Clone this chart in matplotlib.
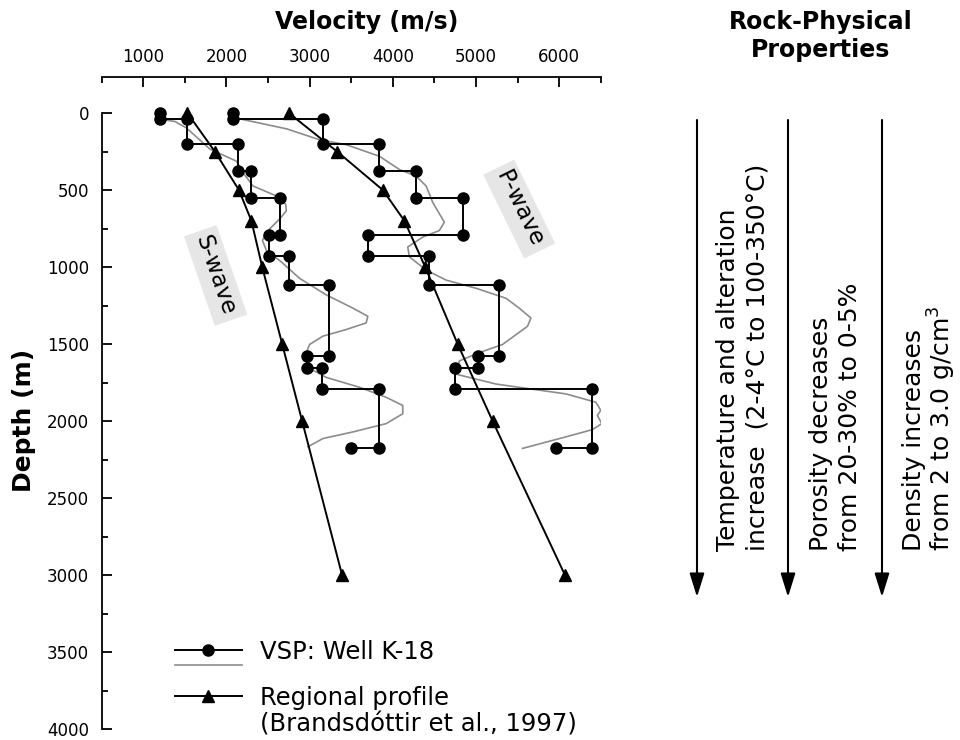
import matplotlib
matplotlib.use('Agg')
import matplotlib.pyplot as plt
from matplotlib.legend_handler import HandlerBase
from matplotlib.lines import Line2D

# ---------------- data ----------------
# VSP Well K-18, interval (step) velocities, shared depth nodes
vsp_depth = [0, 40, 40, 200, 200, 375, 375, 555, 555, 790, 790, 930, 930,
             1115, 1115, 1580, 1580, 1655, 1655, 1795, 1795, 2175, 2175]
s_vsp_vel = [1200, 1200, 1520, 1520, 2140, 2140, 2300, 2300, 2640, 2640, 2510, 2510,
             2750, 2750, 3230, 3230, 2970, 2970, 3150, 3150, 3840, 3840, 3500]
p_vsp_vel = [2080, 2080, 3160, 3160, 3840, 3840, 4280, 4280, 4850, 4850, 3700, 3700,
             4430, 4430, 5280, 5280, 5020, 5020, 4750, 4750, 6400, 6400, 5960]

# VSP continuous (grey) curves
s_cont_depth = [40, 55, 98, 234, 313, 388, 474, 534, 592, 635, 688, 774, 828, 892, 967,
                1074, 1181, 1267, 1320, 1363, 1406, 1449, 1503, 1556, 1664, 1717, 1781,
                1846, 1899, 1953, 2017, 2071, 2114, 2167]
s_cont_vel = [1200, 1380, 1521, 1800, 2121, 2200, 2320, 2580, 2712, 2720, 2640, 2480,
              2433, 2480, 2660, 2880, 3200, 3520, 3700, 3680, 3440, 3160, 3000, 2961,
              3021, 3200, 3600, 3920, 4120, 4120, 3920, 3520, 3160, 2980]
p_cont_depth = [38, 103, 174, 206, 281, 367, 410, 474, 581, 709, 763, 806, 870, 934, 1020,
                1085, 1138, 1203, 1267, 1331, 1385, 1503, 1556, 1610, 1696, 1760, 1824,
                1878, 1931, 1963, 2017, 2056, 2103, 2178]
p_cont_vel = [2160, 2724, 3120, 3441, 3840, 4080, 4281, 4401, 4481, 4620, 4560, 4360,
              4180, 4200, 4401, 4641, 5001, 5361, 5520, 5661, 5620, 5320, 5040, 4800,
              4761, 5241, 6081, 6441, 6501, 6460, 6513, 6400, 6081, 5560]

# Regional profile (Brandsdottir et al., 1997)
reg_depth = [0, 250, 500, 700, 1000, 1500, 2000, 3000]
s_reg_vel = [1530, 1860, 2150, 2300, 2430, 2670, 2910, 3390]
p_reg_vel = [2750, 3330, 3880, 4140, 4390, 4780, 5200, 6070]

x_ticks = [1000, 2000, 3000, 4000, 5000, 6000]
y_ticks = [0, 500, 1000, 1500, 2000, 2500, 3000, 3500, 4000]

# ---------------- figure ----------------
W, H = 960, 740
fig = plt.figure(figsize=(W / 100, H / 100), dpi=100)
# depth 0 at y=113 px, 4000 at y=729 px, top spine at y=77 px
Y0, Y4000, YTOP = 113, 729, 77
px_per_m = (Y4000 - Y0) / 4000
ytop = -(Y0 - YTOP) / px_per_m
ax = fig.add_axes([101.7 / W, (H - Y4000) / H, 499 / W, (Y4000 - YTOP) / H])
ax.set_xlim(500, 6500)
ax.set_ylim(4000, ytop)

grey = '#8c8c8c'
for vel, cdepth, cvel in ((s_vsp_vel, s_cont_depth, s_cont_vel),
                          (p_vsp_vel, p_cont_depth, p_cont_vel)):
    ax.plot(cvel, cdepth, color=grey, lw=1.2, zorder=2)
    step_line, = ax.plot(vel, vsp_depth, color='black', lw=1.4, marker='o',
                         ms=8, zorder=3)
reg_line = None
for vel in (s_reg_vel, p_reg_vel):
    reg_line, = ax.plot(vel, reg_depth, color='black', lw=1.4, marker='^',
                        ms=9, zorder=3)

# axes styling
for s in ('right', 'bottom'):
    ax.spines[s].set_visible(False)
ax.spines['left'].set_bounds(0, 4000)
for s in ('left', 'top'):
    ax.spines[s].set_linewidth(1.3)
ax.xaxis.tick_top()
ax.set_xticks(x_ticks)
ax.set_xticks([500 + 1000 * i for i in range(7)], minor=True)
ax.set_yticks(y_ticks)
ax.set_yticks([250 + 500 * i for i in range(8)], minor=True)
ax.tick_params(which='both', direction='in', width=1.3, labelsize=12)
ax.tick_params(which='major', length=7)
ax.tick_params(which='minor', length=4)
ax.tick_params(axis='x', pad=8)
ax.tick_params(axis='y', pad=9)

# wave labels
box = dict(boxstyle='square,pad=0.25', fc='#e6e6e6', ec='none')
ax.text(1870, 1055, 'S-wave', rotation=-71, rotation_mode='anchor', ha='center',
        va='center', fontsize=16.5, bbox=box, zorder=1)
ax.text(5520, 624, 'P-wave', rotation=-64, rotation_mode='anchor', ha='center',
        va='center', fontsize=16.5, bbox=box, zorder=1)


# legend
class HandlerVSP(HandlerBase):
    def create_artists(self, legend, orig_handle, xdescent, ydescent, width,
                       height, fontsize, trans):
        y = (height - ydescent) / 2
        x0, x1 = -xdescent, width - xdescent
        gap = 15 * 0.72
        l1 = Line2D([x0, x1], [y, y], color='black', lw=1.4)
        mk = Line2D([(x0 + x1) / 2], [y], marker='o', ms=8, color='black', ls='none')
        l2 = Line2D([x0, x1], [y - gap, y - gap], color=grey, lw=1.2)
        for a in (l1, mk, l2):
            a.set_transform(trans)
        return [l1, mk, l2]


LFS = 17.5
leg1 = ax.legend([step_line], ['VSP: Well K-18'], handler_map={step_line: HandlerVSP()},
                 loc='center left', bbox_to_anchor=(175 / W, 1 - 652 / H),
                 bbox_transform=fig.transFigure, frameon=False, borderpad=0,
                 borderaxespad=0, handlelength=48 / LFS, handletextpad=13 / LFS,
                 fontsize=LFS)
ax.add_artist(leg1)
blank = Line2D([], [], ls='none')
leg2 = ax.legend([reg_line, blank], ['Regional profile', '(Brandsdóttir et al., 1997)'],
                 loc='upper left', bbox_to_anchor=(175 / W, 1 - 686 / H),
                 bbox_transform=fig.transFigure, frameon=False, borderpad=0,
                 borderaxespad=0, handlelength=48 / LFS, handletextpad=13 / LFS,
                 fontsize=LFS, labelspacing=0.1)

# overlay for titles and rock-physical column
ov = fig.add_axes([0, 0, 1, 1], zorder=-1)
ov.set_xlim(0, W)
ov.set_ylim(H, 0)
ov.axis('off')
ov.text(367, 22, 'Velocity (m/s)', ha='center', va='center', fontsize=17,
        fontweight='bold')
ov.text(24, 420, 'Depth (m)', ha='center', va='center', rotation=90, fontsize=18,
        fontweight='bold')
ov.text(821, 22, 'Rock-Physical', ha='center', va='center', fontsize=17,
        fontweight='bold')
ov.text(821, 50, 'Properties', ha='center', va='center', fontsize=17,
        fontweight='bold')

for xa in (697, 788, 882):
    ov.annotate('', xy=(xa, 597), xytext=(xa, 120),
                arrowprops=dict(arrowstyle='-|>,head_length=0.9,head_width=0.28',
                                color='black', lw=1.5, shrinkA=0, shrinkB=0,
                                mutation_scale=16))

col_texts = [(728, 'Temperature and alteration'),
             (757, 'increase  (2-4°C to 100-350°C)'),
             (821, 'Porosity decreases'),
             (850, 'from 20-30% to 0-5%'),
             (914, 'Density increases'),
             (942, 'from 2 to 3.0 g/cm$^3$')]
for xt, t in col_texts:
    ov.text(xt, 551, t, rotation=90, ha='center', va='bottom', fontsize=18)

fig.savefig('out.png', dpi=100)
